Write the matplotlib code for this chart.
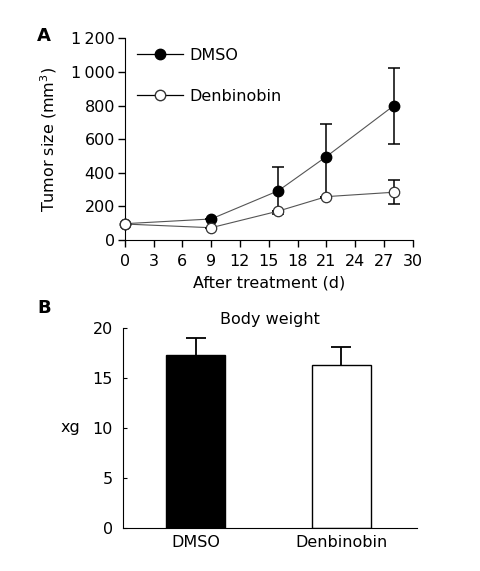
import numpy as np
import matplotlib
matplotlib.use("Agg")
import matplotlib.pyplot as plt
from matplotlib.ticker import FuncFormatter

plt.rcParams['font.family'] = ['DejaVu Sans']

# Panel A: tumor size over time
days = [0, 9, 16, 21, 28]
dmso_size = [97, 125, 293, 496, 798]
dmso_err_lo = [0, 0, 140, 245, 227]
dmso_err_hi = [0, 0, 141, 194, 224]
denb_size = [95, 73, 172, 258, 284]
denb_err = [0, 0, 0, 0, 70]

# Panel B: body weight
groups = ['DMSO', 'Denbinobin']
weight = [17.25, 16.25]
weight_err = [1.75, 1.85]

FS = 11.5


def thin_thousands(v, pos):
    v = int(round(v))
    if v >= 1000:
        return '{}\u2009{:03d}'.format(v // 1000, v % 1000)
    return str(v)


fig = plt.figure(figsize=(4.8, 5.71), dpi=100)

axA = fig.add_axes([0.2598, 0.5797, 0.6, 0.3532])
axA.plot(days, dmso_size, color='#555555', lw=0.8, zorder=2, clip_on=False)
axA.plot(days, denb_size, color='#555555', lw=0.8, zorder=2, clip_on=False)
axA.errorbar(days, dmso_size, yerr=[dmso_err_lo, dmso_err_hi], fmt='none',
             ecolor='black', elinewidth=1.1, capsize=4.2, capthick=1.1, zorder=3)
axA.errorbar(days, denb_size, yerr=denb_err, fmt='none',
             ecolor='black', elinewidth=1.1, capsize=4.2, capthick=1.1, zorder=3)
axA.plot(days, dmso_size, ls='none', marker='o', ms=7.5, mfc='black',
         mec='black', zorder=4, clip_on=False)
axA.plot(days, denb_size, ls='none', marker='o', ms=7.5, mfc='white',
         mec='#333333', mew=0.9, zorder=5, clip_on=False)

# legend entries
axA.plot([], [], color='black', lw=0.9, marker='o', ms=7.5, mfc='black',
         mec='black', label='DMSO')
axA.plot([], [], color='black', lw=0.9, marker='o', ms=7.5, mfc='white',
         mec='#333333', label='Denbinobin')
axA.legend(loc='upper left', bbox_to_anchor=(0.02, 0.985), frameon=False,
           fontsize=FS, handlelength=2.9, handletextpad=0.4,
           labelspacing=1.65, borderaxespad=0)

axA.set_xlim(0, 30)
axA.set_ylim(0, 1200)
axA.set_xticks(np.arange(0, 31, 3))
axA.set_yticks(np.arange(0, 1201, 200))
axA.yaxis.set_major_formatter(FuncFormatter(thin_thousands))
axA.spines['top'].set_visible(False)
axA.spines['right'].set_visible(False)
axA.tick_params(direction='out', length=5, width=1, labelsize=FS)
axA.tick_params(axis='x', pad=5)
axA.tick_params(axis='y', pad=2)
axA.set_xlabel('After treatment (d)', fontsize=FS, labelpad=5)
axA.set_ylabel('Tumor size (mm$^3$)', fontsize=FS, labelpad=9)
fig.text(0.077, 0.937, 'A', fontsize=13, fontweight='bold', ha='left', va='center')

axB = fig.add_axes([0.2556, 0.0748, 0.6125, 0.3513])
x = np.arange(len(groups))
axB.bar(x, weight, width=0.405, color=['black', 'white'], edgecolor='black',
        linewidth=1, zorder=2)
axB.errorbar(x, weight, yerr=weight_err, fmt='none', ecolor='black',
             elinewidth=1.3, capsize=7, capthick=1.3, zorder=1)
axB.set_xlim(-0.501, 1.518)
axB.set_ylim(0, 20)
axB.set_yticks([0, 5, 10, 15, 20])
axB.set_xticks(x)
axB.set_xticklabels(groups)
axB.spines['top'].set_visible(False)
axB.spines['right'].set_visible(False)
axB.tick_params(axis='y', direction='in', length=3, labelsize=FS, pad=7)
axB.tick_params(axis='x', length=0, labelsize=FS, pad=5)
axB.set_title('Body weight', fontsize=FS, pad=3)
axB.set_ylabel('xg', fontsize=FS, rotation=0, labelpad=16, va='center')
fig.text(0.077, 0.461, 'B', fontsize=13, fontweight='bold', ha='left', va='center')

fig.savefig('out.png', dpi=100)
